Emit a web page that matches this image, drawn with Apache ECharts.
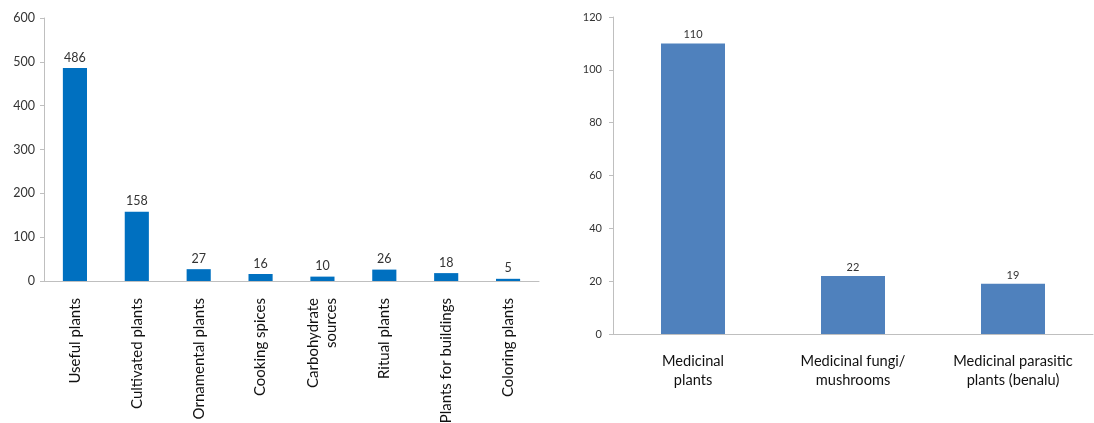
<!DOCTYPE html>
<html>
<head>
<meta charset="utf-8">
<script src="https://cdn.jsdelivr.net/npm/echarts@6/dist/echarts.min.js"></script>
<style>
  html, body { margin: 0; padding: 0; background: #fff; }
  #chart { width: 1094px; height: 423px; }
</style>
</head>
<body>
<div id="chart"></div>
<script>
// left panel: plant uses
const useCategories = ['Useful plants', 'Cultivated plants', 'Ornamental plants', 'Cooking spices',
  'Carbohydrate\nsources', 'Ritual plants', 'Plants for buildings', 'Coloring plants'];
const useCounts = [486, 158, 27, 16, 10, 26, 18, 5];
const useTicks = [0, 100, 200, 300, 400, 500, 600];

// right panel: medicinal
const medCategories = ['Medicinal\nplants', 'Medicinal fungi/\nmushrooms', 'Medicinal parasitic\nplants (benalu)'];
const medCounts = [110, 22, 19];
const medTicks = [0, 20, 40, 60, 80, 100, 120];

const font = 'Lato, "Open Sans", sans-serif';
const axisGrey = '#bfbfbf';
const textGrey = '#333';

const chart = echarts.init(document.getElementById('chart'));

chart.setOption({
  animation: false,
  textStyle: { fontFamily: font },
  grid: [
    { left: 44, top: 18, width: 495, height: 263, outerBoundsMode: 'none' },
    { left: 613, top: 17, width: 480, height: 317, outerBoundsMode: 'none' }
  ],
  xAxis: [
    {
      gridIndex: 0,
      type: 'category',
      data: useCategories,
      axisLine: { lineStyle: { color: axisGrey } },
      axisTick: { length: 4, lineStyle: { color: axisGrey } },
      axisLabel: { interval: 0, rotate: 90, margin: 17, fontSize: 15, color: '#111', fontFamily: font, lineHeight: 18 }
    },
    {
      gridIndex: 1,
      type: 'category',
      data: medCategories,
      axisLine: { lineStyle: { color: axisGrey } },
      axisTick: { length: 4, lineStyle: { color: axisGrey } },
      axisLabel: { interval: 0, margin: 18, fontSize: 14.6, color: '#111', fontFamily: font, lineHeight: 19 }
    }
  ],
  yAxis: [
    {
      gridIndex: 0,
      type: 'value',
      min: useTicks[0],
      max: useTicks[useTicks.length - 1],
      interval: useTicks[1] - useTicks[0],
      axisLine: { show: true, lineStyle: { color: axisGrey } },
      axisTick: { show: true, length: 4, lineStyle: { color: axisGrey } },
      splitLine: { show: false },
      axisLabel: { fontSize: 12.5, color: textGrey, margin: 9, fontFamily: font }
    },
    {
      gridIndex: 1,
      type: 'value',
      min: medTicks[0],
      max: medTicks[medTicks.length - 1],
      interval: medTicks[1] - medTicks[0],
      axisLine: { show: true, lineStyle: { color: axisGrey } },
      axisTick: { show: true, length: 4, lineStyle: { color: axisGrey } },
      splitLine: { show: false },
      axisLabel: { fontSize: 11, color: textGrey, margin: 11, fontFamily: font }
    }
  ],
  series: [
    {
      type: 'bar',
      xAxisIndex: 0,
      yAxisIndex: 0,
      data: useCounts,
      barWidth: '39%',
      itemStyle: { color: '#0070c0' },
      label: { show: true, position: 'top', distance: 4, fontSize: 12.5, color: textGrey, fontFamily: font }
    },
    {
      type: 'bar',
      xAxisIndex: 1,
      yAxisIndex: 1,
      data: medCounts,
      barWidth: '40%',
      itemStyle: { color: '#4f81bd' },
      label: { show: true, position: 'top', distance: 3, fontSize: 11, color: textGrey, fontFamily: font }
    }
  ]
});
</script>
</body>
</html>
